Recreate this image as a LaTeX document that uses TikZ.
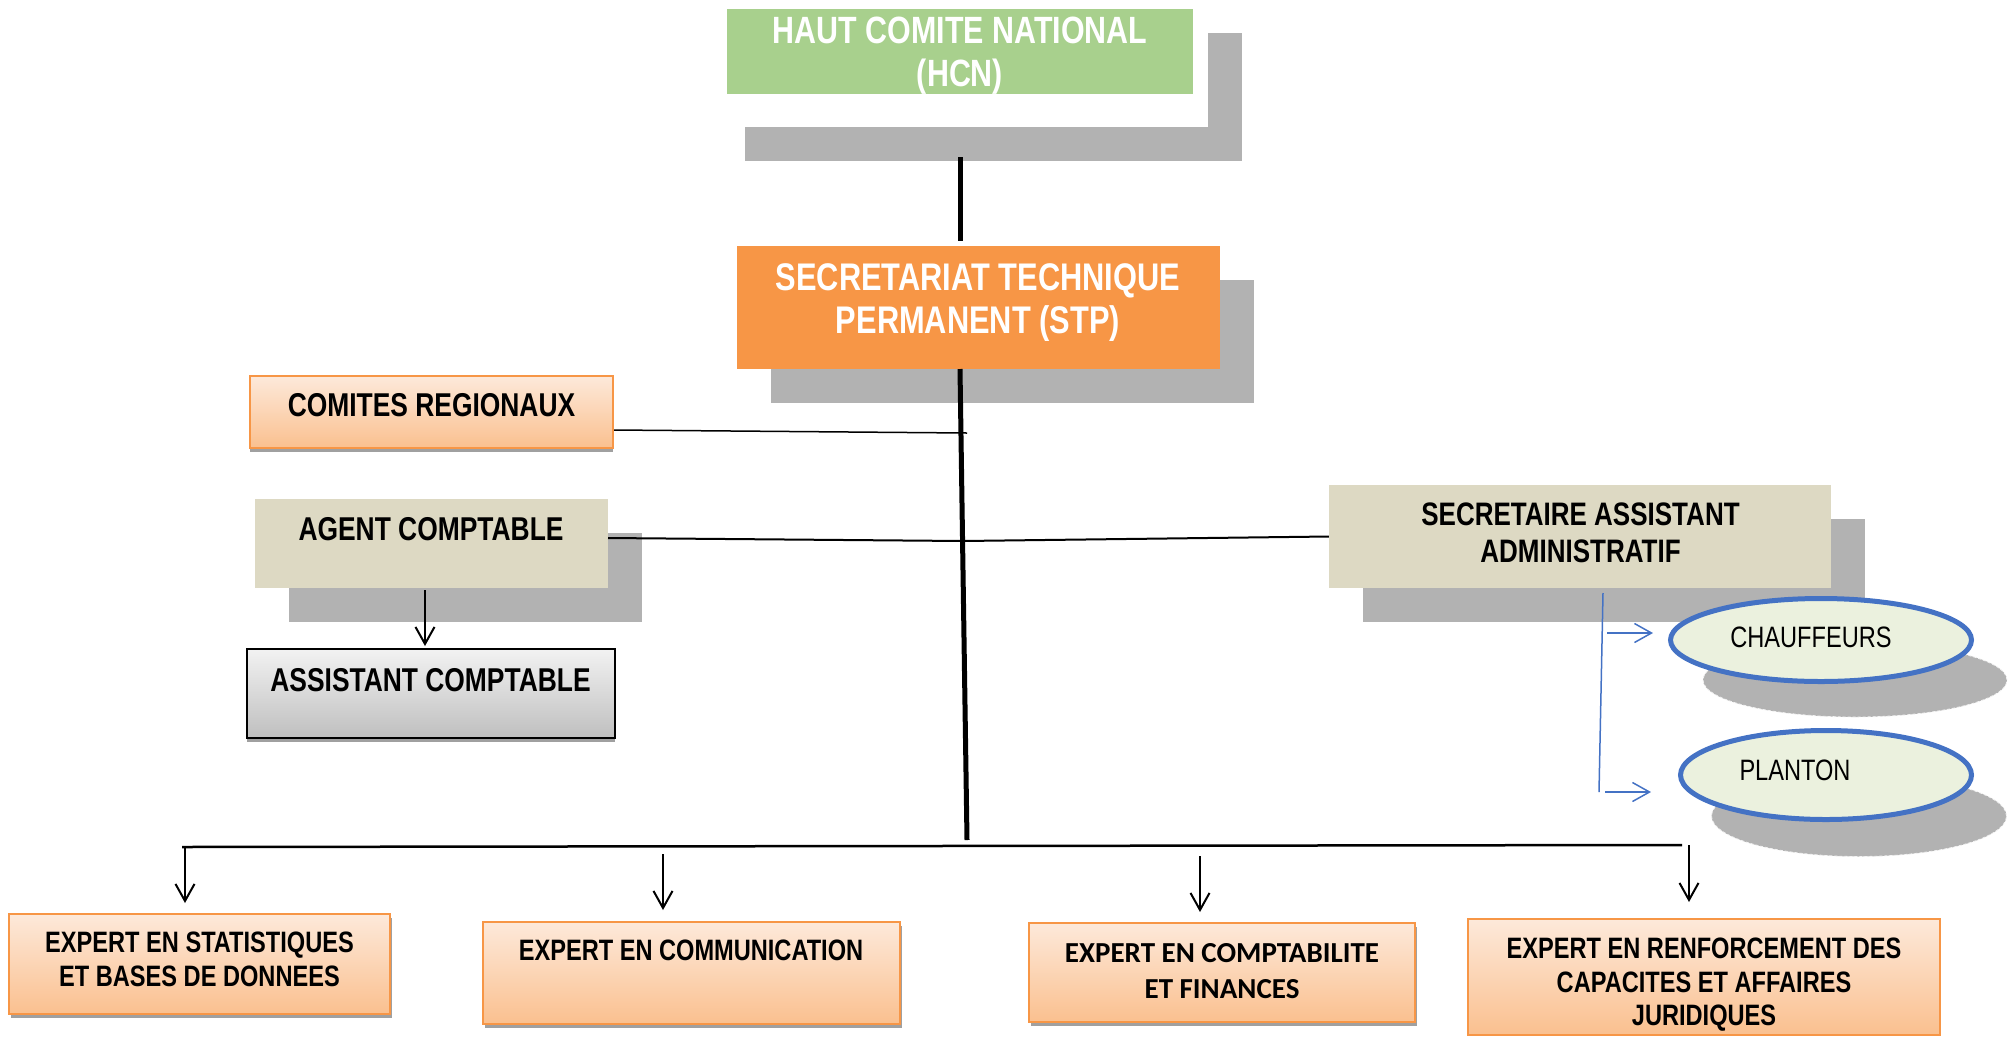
\documentclass[tikz,border=0pt]{standalone}
\usepackage{fontspec}
\setmainfont{Liberation Sans}
\newfontfamily\narrowsans[FakeStretch=0.8]{Liberation Sans}
\newfontfamily\calsans{Carlito}
\usetikzlibrary{shapes.geometric,arrows.meta,fit}

\definecolor{hcngreen}{HTML}{A8D08D}
\definecolor{stporange}{HTML}{F79646}
\definecolor{shadowgray}{HTML}{B2B2B2}
\definecolor{dropgray}{HTML}{A0A0A0}
\definecolor{beige}{HTML}{DDD9C3}
\definecolor{peachtop}{HTML}{FDE9DA}
\definecolor{peachbot}{HTML}{FAC08F}
\definecolor{greytop}{HTML}{F2F2F2}
\definecolor{greybot}{HTML}{BFBFBF}
\definecolor{ovalfill}{HTML}{EBF1DE}
\definecolor{ovalblue}{HTML}{4472C4}

\begin{document}
\begin{tikzpicture}[x=1pt,y=-1pt,
  plainbox/.style={inner sep=0pt, draw=none},
  peachbox/.style={inner sep=0pt, top color=peachtop, bottom color=peachbot,
                   draw=stporange, line width=2pt},
  greybox/.style={inner sep=0pt, top color=greytop, bottom color=greybot,
                  draw=black, line width=2.5pt},
  oval/.style={ellipse, inner sep=0pt, fill=ovalfill, draw=ovalblue, line width=5pt},
  ovalshadow/.style={ellipse, inner sep=0pt, fill=shadowgray,
                     draw=white!85!shadowgray, densely dashed, line width=0.8pt},
  lbl/.style={inner sep=0pt, align=center, anchor=north},
  headtxt/.style={lbl, text=white, font=\narrowsans\bfseries\fontsize{38}{43}\selectfont},
  boxtxt/.style={lbl, font=\narrowsans\bfseries\fontsize{33}{37}\selectfont},
  experttxt/.style={lbl, font=\narrowsans\bfseries\fontsize{29.5}{33.5}\selectfont},
  ovaltxt/.style={lbl, font=\narrowsans\fontsize{29.5}{33}\selectfont},
  stem/.style={line width=5pt},
  link/.style={line width=2pt},
  tip/.style={-{Straight Barb[length=17pt,width=19pt]}},
  bluelink/.style={draw=ovalblue, line width=1.5pt}
]
\useasboundingbox (0,0) rectangle (2008,1037);

% ---- Haut Comite National
\fill[shadowgray] (745,33) rectangle (1242,161);
\fill[white] (727,9) rectangle (1208,127);
\node[plainbox, fill=hcngreen, fit={(727,9)(1193,94)}] (hcn) {};
\node[headtxt] (hcn-t) at (960,17) {HAUT COMITE NATIONAL\\(HCN)};

% ---- Secretariat technique permanent
\fill[shadowgray] (771,280) rectangle (1254,403);
\node[plainbox, fill=stporange, fit={(737,246)(1220,369)}] (stp) {};
\node[headtxt, font=\narrowsans\bfseries\fontsize{38.5}{43}\selectfont] (stp-t) at (978,263)
  {SECRETARIAT TECHNIQUE\\PERMANENT (STP)};

% ---- Comites regionaux
\fill[dropgray] (250,380) rectangle (613,452);
\node[peachbox, fit={(250,376)(613,448)}] (com) {};
\node[boxtxt] (com-t) at (431.5,393) {COMITES REGIONAUX};

% ---- Agent comptable
\fill[shadowgray] (289,533) rectangle (642,622);
\node[plainbox, fill=beige, fit={(255,499)(608,588)}] (agent) {};
\node[boxtxt] (agent-t) at (431,517) {AGENT COMPTABLE};

% ---- Assistant comptable
\fill[dropgray] (247,653) rectangle (615,742);
\node[greybox, fit={(247,649)(615,738)}] (asst) {};
\node[boxtxt] (asst-t) at (430.5,668) {ASSISTANT COMPTABLE};

% ---- Secretaire assistant administratif
\fill[shadowgray] (1363,519) rectangle (1865,622);
\node[plainbox, fill=beige, fit={(1329,485)(1831,588)}] (saa) {};
\node[boxtxt, font=\narrowsans\bfseries\fontsize{32.5}{37}\selectfont] (saa-t) at (1580.5,503)
  {SECRETAIRE ASSISTANT\\ADMINISTRATIF};

% ---- Chauffeurs and planton
\node[ovalshadow, minimum width=304, minimum height=74] (chauf-sh) at (1855,680) {};
\node[oval, minimum width=301, minimum height=83] (chauf) at (1821,640) {};
\node[ovaltxt] (chauf-t) at (1811,627) {CHAUFFEURS};
\node[ovalshadow, minimum width=295, minimum height=81] (plant-sh) at (1859,816) {};
\node[oval, minimum width=291, minimum height=89] (plant) at (1826,775) {};
\node[ovaltxt] (plant-t) at (1795,760) {PLANTON};

% ---- Experts
\fill[dropgray] (11,918) rectangle (392,1018);
\node[peachbox, fit={(9,914)(390,1014)}] (e1) {};
\node[experttxt] (e1-t) at (199.5,932) {EXPERT EN STATISTIQUES\\ET BASES DE DONNEES};

\fill[dropgray] (485,926) rectangle (902,1028);
\node[peachbox, fit={(483,922)(900,1024)}] (e2) {};
\node[experttxt] (e2-t) at (691,940) {EXPERT EN COMMUNICATION};

\fill[dropgray] (1031,927) rectangle (1417,1026);
\node[peachbox, fit={(1029,923)(1415,1022)}] (e3) {};
\node[lbl, font=\calsans\bfseries\fontsize{29}{36}\selectfont] (e3-t) at (1222,943)
  {EXPERT EN COMPTABILITE\\ET FINANCES};

\node[peachbox, fit={(1468,919)(1940,1035)}] (e4) {};
\node[experttxt] (e4-t) at (1704,938)
  {EXPERT EN RENFORCEMENT DES\\CAPACITES ET AFFAIRES\\JURIDIQUES};

% ---- Connector end points
\coordinate (hcn-drop) at (960,157);
\coordinate (stp-in) at (960,241);
\coordinate (stem-top) at (960,369);
\coordinate (stem-foot) at (967,840);
\coordinate (com-end) at (967,433);
\coordinate (mid-cross) at (963,541);
\coordinate (agent-out) at (608,538);
\coordinate (agent-drop) at (425,590);
\coordinate (asst-in) at (425,646);
\coordinate (bus-w) at (182,847);
\coordinate (bus-e) at (1682,845);
\coordinate (a1-top) at (185,847);  \coordinate (a1-end) at (185,903);
\coordinate (a2-top) at (663,854);  \coordinate (a2-end) at (663,910);
\coordinate (a3-top) at (1200,856); \coordinate (a3-end) at (1200,912);
\coordinate (a4-top) at (1689,845); \coordinate (a4-end) at (1689,902);
\coordinate (saa-drop) at (1603,593);
\coordinate (saa-foot) at (1599,792);
\coordinate (chauf-from) at (1607,633); \coordinate (chauf-to) at (1653,633);
\coordinate (plant-from) at (1605,792); \coordinate (plant-to) at (1651,792);

% ---- Connectors
\draw[stem] (hcn-drop) -- (stp-in);
\draw[stem] (stem-top) -- (stem-foot);
\draw[line width=1.5pt] ([yshift=-18pt]com.east) -- (com-end);
\draw[link] (agent-out) -- (mid-cross) -- (saa.west);
\draw[link, tip] (agent-drop) -- (asst-in);
\draw[line width=2.5pt] (bus-w) -- (bus-e);
\draw[link, tip] (a1-top) -- (a1-end);
\draw[link, tip] (a2-top) -- (a2-end);
\draw[link, tip] (a3-top) -- (a3-end);
\draw[link, tip] (a4-top) -- (a4-end);
\draw[bluelink] (saa-drop) -- (saa-foot);
\draw[bluelink, tip] (chauf-from) -- (chauf-to);
\draw[bluelink, tip] (plant-from) -- (plant-to);
\end{tikzpicture}
\end{document}
